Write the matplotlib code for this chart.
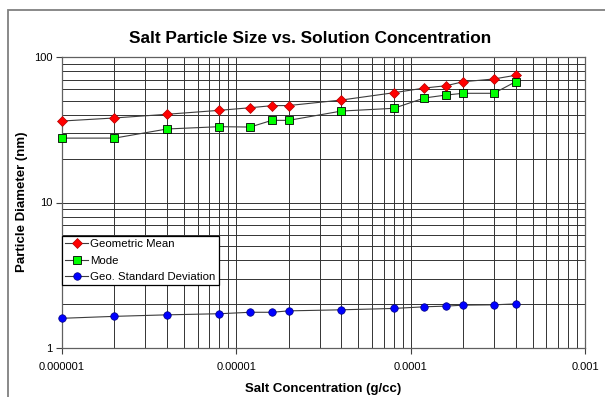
import matplotlib
matplotlib.use("Agg")
import matplotlib.pyplot as plt
from matplotlib.patches import Rectangle
from matplotlib.ticker import FixedLocator, FixedFormatter, NullFormatter, LogLocator

plt.rcParams['font.family'] = ['Liberation Sans', 'DejaVu Sans']

# salt concentration (g/cc)
conc = [1e-6, 2e-6, 4e-6, 8e-6, 1.2e-5, 1.6e-5, 2e-5, 4e-5, 8e-5,
        1.2e-4, 1.6e-4, 2e-4, 3e-4, 4e-4]

geo_mean = [36.3, 38.1, 40.4, 43.0, 44.8, 46.3, 46.4, 50.6, 56.8,
            61.2, 63.5, 67.6, 70.6, 74.9]
mode = [27.7, 27.7, 32.0, 33.2, 33.0, 36.7, 36.7, 42.5, 44.4,
        52.3, 54.8, 56.3, 56.3, 67.6]
geo_std = [1.60, 1.65, 1.69, 1.72, 1.76, 1.76, 1.80, 1.83, 1.87,
           1.92, 1.94, 1.97, 1.98, 2.01]

x_ticks = [1e-6, 1e-5, 1e-4, 1e-3]
x_labels = ["0.000001", "0.00001", "0.0001", "0.001"]
y_ticks = [1, 10, 100]
y_labels = ["1", "10", "100"]

fig = plt.figure(figsize=(6.05, 3.97), dpi=100)

# chart area border (runs off the right/bottom edge like the original)
fig.patches.append(Rectangle((8 / 605, -0.1), 1.1, 1 - 10 / 397 + 0.1,
                             transform=fig.transFigure, fill=False,
                             edgecolor='#808080', linewidth=1.3))

ax = fig.add_axes([62 / 605, 49 / 397, 523 / 605, 291 / 397])
ax.set_xscale('log')
ax.set_yscale('log')
ax.set_xlim(1e-6, 1e-3)
ax.set_ylim(1, 100)

line_col = '#3c3c3c'
ax.plot(conc, geo_mean, color=line_col, lw=0.8, marker='D', ms=4.8,
        mfc='#ff0000', mec='#b00000', mew=0.5, label='Geometric Mean',
        zorder=3, clip_on=False)
ax.plot(conc, mode, color=line_col, lw=0.8, marker='s', ms=5.2,
        mfc='#00ff00', mec='#000000', mew=0.6, label='Mode',
        zorder=3, clip_on=False)
ax.plot(conc, geo_std, color=line_col, lw=0.8, marker='o', ms=5.4,
        mfc='#0000ff', mec='#000080', mew=0.5, label='Geo. Standard Deviation',
        zorder=3, clip_on=False)

ax.xaxis.set_major_locator(FixedLocator(x_ticks))
ax.xaxis.set_major_formatter(FixedFormatter(x_labels))
ax.xaxis.set_minor_locator(LogLocator(base=10, subs=range(2, 10)))
ax.xaxis.set_minor_formatter(NullFormatter())
ax.yaxis.set_major_locator(FixedLocator(y_ticks))
ax.yaxis.set_major_formatter(FixedFormatter(y_labels))
ax.yaxis.set_minor_locator(LogLocator(base=10, subs=range(2, 10)))
ax.yaxis.set_minor_formatter(NullFormatter())

ax.grid(True, which='both', color='#333333', linewidth=0.7)
ax.set_axisbelow(True)
ax.tick_params(which='major', direction='out', length=4, width=0.8,
               color='#404040', labelsize=8, pad=3)
ax.tick_params(axis='x', which='major', pad=6)
ax.tick_params(which='minor', length=0)
for s in ax.spines.values():
    s.set_color('#606060')
    s.set_linewidth(0.9)

ax.set_xlabel("Salt Concentration (g/cc)", fontsize=9.5, fontweight='bold', labelpad=8)
fig.text(22 / 605, 1 - 202 / 397, "Particle Diameter (nm)", rotation=90,
         ha='center', va='center', fontsize=9.5, fontweight='bold')
fig.text(0.513, 0.902, "Salt Particle Size vs. Solution Concentration",
         ha='center', va='center', fontsize=12.4, fontweight='bold')

leg = ax.legend(loc='upper left', bbox_to_anchor=(0.0, 1 - (236 - 57) / 291),
                fontsize=8.2, frameon=True, fancybox=False, framealpha=1,
                edgecolor='black', borderpad=0.3, labelspacing=0.55,
                handlelength=2.0, handletextpad=0.2, borderaxespad=0)
leg.get_frame().set_linewidth(0.9)

fig.savefig("out.png", dpi=100)
